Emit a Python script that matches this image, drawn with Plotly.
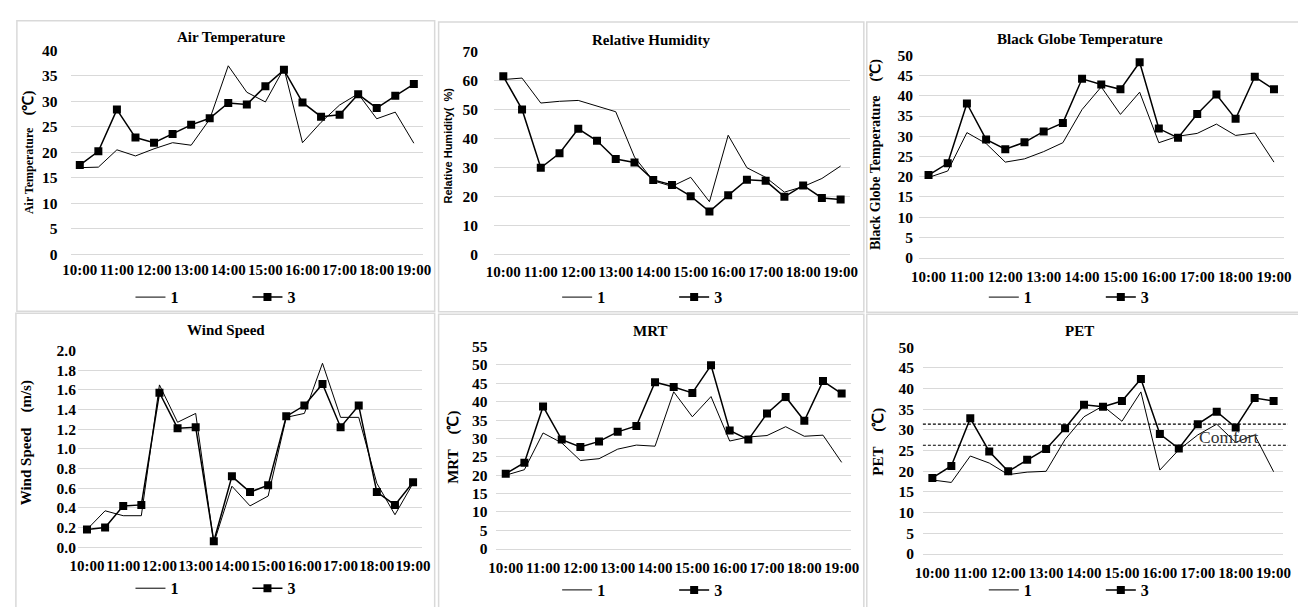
import plotly.graph_objects as go

# ---------------- data ----------------
times = ["10:00", "10:30", "11:00", "11:30", "12:00", "12:30", "13:00", "13:30",
         "14:00", "14:30", "15:00", "15:30", "16:00", "16:30", "17:00", "17:30",
         "18:00", "18:30", "19:00"]
hour_labels = ["10:00", "11:00", "12:00", "13:00", "14:00", "15:00", "16:00",
               "17:00", "18:00", "19:00"]
series_names = ["1", "3"]

air_1 = [17.0, 17.1, 20.5, 19.3, 20.7, 21.9, 21.4, 26.5, 37.0, 31.8, 29.9, 36.5,
         21.9, 25.9, 29.3, 31.5, 26.6, 27.9, 21.8]
air_3 = [17.5, 20.2, 28.4, 22.9, 21.9, 23.6, 25.4, 26.7, 29.7, 29.4, 33.0, 36.2,
         29.8, 27.0, 27.4, 31.4, 28.7, 31.1, 33.4]

rh_1 = [60.2, 60.7, 52.1, 52.7, 53.0, 51.0, 49.1, 33.5, 25.3, 23.4, 26.5, 18.1,
        41.0, 29.8, 26.5, 21.4, 23.3, 26.1, 30.4]
rh_3 = [61.3, 49.9, 29.8, 34.8, 43.2, 39.1, 32.8, 31.6, 25.6, 23.9, 20.0, 14.7,
        20.3, 25.7, 25.3, 19.8, 23.7, 19.4, 18.9]

bgt_1 = [19.8, 21.4, 30.9, 28.2, 23.6, 24.4, 26.2, 28.4, 36.6, 42.2, 35.4, 40.9,
         28.4, 30.0, 30.7, 33.0, 30.2, 30.8, 23.6]
bgt_3 = [20.4, 23.3, 38.1, 29.2, 26.8, 28.5, 31.2, 33.3, 44.2, 42.8, 41.6, 48.3,
         31.9, 29.6, 35.5, 40.3, 34.3, 44.7, 41.6]

wind_1 = [0.18, 0.37, 0.32, 0.32, 1.65, 1.27, 1.36, 0.04, 0.62, 0.42, 0.52, 1.32,
          1.36, 1.87, 1.32, 1.32, 0.65, 0.33, 0.65]
wind_3 = [0.18, 0.20, 0.42, 0.43, 1.57, 1.21, 1.22, 0.06, 0.72, 0.56, 0.63, 1.33,
          1.44, 1.66, 1.22, 1.44, 0.56, 0.43, 0.66]

mrt_1 = [20.0, 21.5, 31.5, 28.8, 24.0, 24.5, 27.1, 28.2, 27.9, 42.7, 35.9, 41.4,
         29.3, 30.4, 30.8, 33.2, 30.6, 30.9, 23.5]
mrt_3 = [20.4, 23.4, 38.7, 29.7, 27.7, 29.2, 31.8, 33.4, 45.3, 44.0, 42.4, 49.9,
         32.2, 29.7, 36.8, 41.3, 34.8, 45.6, 42.2]

pet_1 = [17.9, 17.3, 23.7, 22.0, 19.2, 19.8, 20.0, 27.7, 33.2, 35.8, 32.1, 39.2,
         20.3, 25.2, 28.8, 31.4, 27.0, 28.8, 19.9]
pet_3 = [18.4, 21.3, 32.8, 24.8, 20.0, 22.8, 25.4, 30.4, 36.1, 35.6, 37.0, 42.3,
         29.0, 25.5, 31.4, 34.4, 30.6, 37.7, 37.0]

comfort_upper = 31.4
comfort_lower = 26.3
comfort_label = "Comfort"

titles = ["Air Temperature", "Relative Humidity", "Black Globe Temperature",
          "Wind Speed", "MRT", "PET"]
ytitles = ["Air Temperature\u3000<span style='font-size:15px'>(℃)</span>",
           "Relative Humidity(  %)",
           "Black Globe Temperature\u3000(℃)",
           "Wind Speed\u3000(m/s)",
           "MRT\u3000(℃)",
           "PET\u3000(℃)"]
data_1 = [air_1, rh_1, bgt_1, wind_1, mrt_1, pet_1]
data_3 = [air_3, rh_3, bgt_3, wind_3, mrt_3, pet_3]

# ---------------- layout geometry (pixels) ----------------
W, H = 1298, 607
def fx(p): return p / W
def fy(p): return 1 - p / H

panels = [
    dict(ox=0,   oy=0,   x0=63.3,  x1=420.3,  yt=42.7,  yb=252.3, ymax=40,  dt=5,   sd=12, tfmt=None,
         tx=226.7, ty=29, atx=21, aty=147.5, afam="Liberation Serif", asz=12, ly=296.5, xsd=2),
    dict(ox=432, oy=0,   x0=492.0, x1=852.5,  yt=43.3,  yb=252.3, ymax=70,  dt=10,  sd=15, tfmt=None,
         tx=651, ty=31.5, atx=446, aty=141, afam="Liberation Sans", asz=11, ly=296.5, xsd=4),
    dict(ox=864, oy=0,   x0=922.3, x1=1291.5, yt=47.7,  yb=255.7, ymax=50,  dt=5,   sd=5, tfmt=None,
         tx=1085.7, ty=30.5, atx=879, aty=150, afam="Liberation Serif", asz=14, ly=296.5, xsd=5),
    dict(ox=0,   oy=303, x0=70.8,  x1=419.3,  yt=351.3, yb=553.7, ymax=2.0, dt=0.2, sd=1, tfmt=".1f",
         tx=220.8, ty=330.3, atx=19, aty=446, afam="Liberation Serif", asz=15, ly=596, xsd=5),
    dict(ox=432, oy=303, x0=494.5, x1=853.5,  yt=347.3, yb=555.3, ymax=55,  dt=5,   sd=8, tfmt=None,
         tx=650, ty=331.3, atx=451, aty=451, afam="Liberation Serif", asz=15, ly=598, xsd=5),
    dict(ox=864, oy=303, x0=926.3, x1=1291.0, yt=348.0, yb=560.7, ymax=50,  dt=5,   sd=8, tfmt=None,
         tx=1084.8, ty=331.3, atx=881, aty=445, afam="Liberation Serif", asz=15, ly=598, xsd=5),
]
borders = [(9, 12, 432, 311), (436, 13.5, 866.5, 311.5), (869.5, 13.5, 1310, 312),
           (8, 313, 432, 620), (436, 314, 866.5, 620), (869.5, 314, 1310, 620)]

GRID = "#d9d9d9"
SERIF = "Liberation Serif"

fig = go.Figure()
layout = dict(width=W, height=H, margin=dict(l=0, r=0, t=0, b=0, pad=0),
              paper_bgcolor="white", plot_bgcolor="white", showlegend=True)
annotations = []
shapes = []

for i, p in enumerate(panels):
    n = i + 1
    xa = "x" if n == 1 else f"x{n}"
    ya = "y" if n == 1 else f"y{n}"
    lg = "legend" if n == 1 else f"legend{n}"
    fig.add_trace(go.Scatter(x=times, y=data_1[i], mode="lines", name=series_names[0],
                             line=dict(color="black", width=1), xaxis=xa, yaxis=ya,
                             legend=lg, hoverinfo="skip"))
    fig.add_trace(go.Scatter(x=times, y=data_3[i], mode="lines+markers", name=series_names[1],
                             line=dict(color="black", width=1.5),
                             marker=dict(symbol="square", size=8, color="black"),
                             xaxis=xa, yaxis=ya, legend=lg, hoverinfo="skip"))
    layout[f"xaxis{n if n > 1 else ''}"] = dict(
        domain=[fx(p["x0"]), fx(p["x1"])], anchor=ya, type="category",
        categoryorder="array", categoryarray=times, range=[-0.5, len(times) - 0.5],
        tickmode="array", tickvals=hour_labels, ticktext=hour_labels, tickangle=0,
        showgrid=False, showline=True, linecolor=GRID, linewidth=1, zeroline=False,
        ticks="", ticklabelstandoff=p["xsd"],
        tickfont=dict(family=SERIF, size=15, color="black", weight="bold"))
    yax = dict(
        domain=[fy(p["yb"]), fy(p["yt"])], anchor=xa, range=[0, p["ymax"]],
        tickmode="linear", tick0=0, dtick=p["dt"], showgrid=True, gridcolor=GRID,
        gridwidth=1, zeroline=False, showline=False, ticks="",
        ticklabelstandoff=p["sd"],
        tickfont=dict(family=SERIF, size=15.5, color="black", weight="bold"))
    if p["tfmt"]:
        yax["tickformat"] = p["tfmt"]
    layout[f"yaxis{n if n > 1 else ''}"] = yax
    layout[lg] = dict(orientation="h", x=fx(p["ox"] + 124), y=fy(p["ly"]),
                      xanchor="left", yanchor="middle", bgcolor="rgba(0,0,0,0)",
                      itemwidth=30, entrywidth=72, entrywidthmode="pixels",
                      font=dict(family=SERIF, size=16, color="black", weight="bold"))
    annotations.append(dict(text=titles[i], x=fx(p["tx"]), y=fy(p["ty"]), xref="paper",
                            yref="paper", showarrow=False, xanchor="center", yanchor="middle",
                            font=dict(family=SERIF, size=15, color="black", weight="bold")))
    annotations.append(dict(text=ytitles[i], x=fx(p["atx"]), y=fy(p["aty"]), xref="paper",
                            yref="paper", showarrow=False, xanchor="center", yanchor="middle",
                            textangle=-90,
                            font=dict(family=p["afam"], size=p["asz"], color="black", weight="bold")))

for (x0, y0, x1, y1) in borders:
    shapes.append(dict(type="rect", xref="paper", yref="paper", x0=fx(x0), x1=fx(x1),
                       y0=fy(y1), y1=fy(y0), line=dict(color=GRID, width=1.5),
                       fillcolor="rgba(0,0,0,0)", layer="below"))

for val in (comfort_upper, comfort_lower):
    shapes.append(dict(type="line", xref="paper", yref="y6", x0=fx(926.3), x1=fx(1296),
                       y0=val, y1=val, line=dict(color="black", width=1.2, dash="3px,2px")))

annotations.append(dict(text=comfort_label, x=fx(1236), y=(comfort_upper + comfort_lower) / 2 - 0.6,
                        xref="paper", yref="y6", showarrow=False, xanchor="center",
                        yanchor="middle", font=dict(family=SERIF, size=17.5, color="#333333")))

layout["annotations"] = annotations
layout["shapes"] = shapes
fig.update_layout(**layout)
fig.write_html("out.html")
